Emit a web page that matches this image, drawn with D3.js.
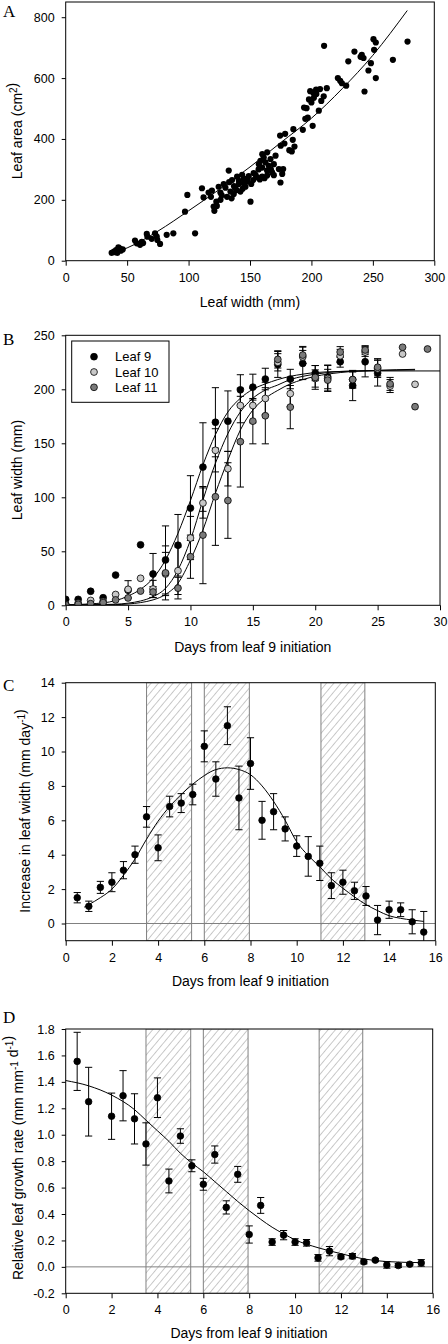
<!DOCTYPE html>
<html><head><meta charset="utf-8">
<script src="https://cdn.jsdelivr.net/npm/d3@7"></script>
<style>
body{margin:0;background:#fff}
svg{display:block}
text{font-family:"Liberation Sans",Arial,sans-serif;fill:#000}
</style>
</head><body>
<svg id="chart" width="448" height="1344"></svg>
<script>
// ---------------- Panel A data ----------------
const leafWidthA = [37.4,39.3,41,42.9,44.2,46.4,42,44.8,40,56.4,57.8,60.5,61.9,66,66.5,72.7,74.1,74.6,76.8,82.2,87.6,105.3,97.1,99,63,70,
110.9,112.2,116.3,118.2,120.4,121,122.6,124.5,125.9,128.6,131.3,132.7,134.1,135.4,136.8,138.1,139.5,140.9,142.2,143.6,145,146.3,147.7,149,150.4,151,152.6,154.5,155.9,158,159.9,161.8,
127,130,133,137,141,144,148,153,157,145,139,126,119,123,135,
157.2,158.5,159.9,161.2,162.6,163.9,165.3,166.7,168,169.4,170.8,173.5,174.8,176.2,177,169.4,163.9,160,164,167,
174.5,178.6,185.3,184.8,186.2,184,178,182,175,
193,195,197,194,196,198,200,202,204,199,201.6,203.8,206,207,210,212.5,208,201,210.3,
221.5,223.4,224.8,228.3,230,235,241,242.4,240,248.4,246.4,252.4,243.2,250.5,252.4,251,266.3,278.2];
const leafAreaA = [26,30,35,44,40,37,26,33,28,66,57,52,62,88,79,90,79,68,55,85,90,90,161,216,58,72,
238,208,224,210,178,164,194,243,224,252,210,296,227,265,219,238,276,252,227,282,254,243,267,278,194,252,265,282,274,267,276,271,
215,240,258,245,262,236,260,288,300,270,232,200,230,180,205,
317,328,306,339,323,296,312,334,290,317,345,301,257,285,301,281,280,350,356,300,
411,417,432,397,375,359,385,363,378,
430,466,470,503,501,530,520,535,548,557,551,562,493,564,540,567,525,443,706,
600,591,583,575,655,687,676,666,670,649,625,600,556,728,717,693,660,720];
const fitWidthA = [40,50,75,100,125,150,175,200,225,250,278];
const fitAreaA  = [27,42,97,164,234,308,388,468,565,675,822];
const xTicksA = [0,50,100,150,200,250,300];
const yTicksA = [0,200,400,600,800];

// ---------------- Panel B data ----------------
const daysB = d3.range(0,30);
const leaf9  = [5.5,5.5,13,7,28,14,56,29,42,55.6,90,128,169.5,170.5,199.5,202,209.5,223,209.5,224,215,211.5,225.5,203.5,225.5,215,null,null,null,null];
const leaf9Err = [0,0,0,0,0,0,0,19,31.5,28.5,30,41,32,28,14,12,10,12,9,15,7,11,5,14,14,12,null,null,null,null];
const leaf10 = [1,2,4.5,3.5,10,14.8,25,15.1,29,32,62.3,94.7,143.5,126.5,185,185,191.5,225,196,230,210,210,231,209,234.5,219,203,232.7,204.6,null];
const leaf10Err = [0,0,0,0,0,8,0,8,20,22,20,14,20,16,16,16,15,8,12,6,8,12,6,8,4,8,6,0,0,null];
const leaf11 = [0.5,1,1.5,2.5,5,6.8,13.2,12.3,30,15.9,45,65,100.5,97,151.5,170.5,175.5,227.7,183.5,231.7,211,208.5,234.5,209,236.4,220.4,205,238.9,183.9,237.3];
const leaf11Err = [0,0,0,0,0,0,0,5,25,10,20,45,45,35,42,21,26,8,20,8,11,10,5,7,4,8,6,0,0,0];
const fitDays9  = [0,2,4,5,6,7,8,9,10,11,12,13,14,15,16,17,18,19,20,22,25,28,30];
const fit9      = [0.5,1.3,4.3,8.6,14.8,25,42,66.7,97,130,158,179,191.7,200,205,209,212,214,215.5,216.5,217,217,217];
const fitDays10 = [0,2,4,5,6,7,8,9,10,11,12,13,14,15,16,17,18,19,20,22,25,28];
const fit10     = [0.2,0.6,1,2,4,8,15.7,32.7,60.5,97.5,131.5,159,179,191.7,199.3,204,209,212,214,216.5,217.5,218];
const fitDays11 = [0,2,4,5,6,7,8,9,10,11,12,13,14,15,16,17,18,19,20,22,25,28];
const fit11     = [0.1,0.3,0.6,1.2,2.5,5,10,20.4,42,69.7,103.7,134.5,162.3,180.8,191.7,199,205,209,212,215.5,217.5,218.5];
const legendB = ["Leaf 9","Leaf 10","Leaf 11"];
const xTicksB = [0,5,10,15,20,25,30];
const yTicksB = [0,50,100,150,200,250];

// ---------------- Panel C data ----------------
const daysC = [0.5,1,1.5,2,2.5,3,3.5,4,4.5,5,5.5,6,6.5,7,7.5,8,8.5,9,9.5,10,10.5,11,11.5,12,12.5,13,13.5,14,14.5,15,15.5];
const rateC = [1.5,1.0,2.1,2.4,3.1,4.0,6.2,4.4,6.8,7.0,7.5,10.3,8.4,11.5,7.3,9.3,6.0,6.5,5.5,4.5,3.9,3.5,2.2,2.4,1.9,1.6,0.2,0.8,0.8,0.1,-0.5];
const errC  = [0.3,0.3,0.35,0.55,0.5,0.5,0.6,0.75,0.6,0.55,0.6,0.9,1.0,1.1,1.85,1.5,1.1,1.05,0.7,0.6,1.15,1.0,0.75,0.7,0.5,0.55,0.85,0.5,0.4,0.7,1.2];
const fitDaysC = [0.8,1,1.5,2,2.5,3,3.5,4,4.5,5,5.5,6,6.5,7,7.5,8,8.5,9,9.5,10,10.5,11,11.5,12,12.5,13,13.5,14,14.5,15,15.5];
const fitC     = [0.95,1.1,1.5,2.0,2.8,3.75,4.9,5.95,6.8,7.5,8.1,8.6,8.95,9.05,8.95,8.65,8.0,7.1,6.0,4.75,3.95,3.3,2.6,2.05,1.55,1.1,0.75,0.45,0.3,0.2,0.12];
const xTicksC = [0,2,4,6,8,10,12,14,16];
const yTicksC = [0,2,4,6,8,10,12,14];

// ---------------- Panel D data ----------------
const daysD = [0.5,1,2,2.5,3,3.5,4,4.5,5,5.5,6,6.5,7,7.5,8,8.5,9,9.5,10,10.5,11,11.5,12,12.5,13,13.5,14,14.5,15,15.5];
const rgrD  = [1.555,1.25,1.14,1.295,1.12,0.93,1.28,0.65,0.99,0.765,0.625,0.85,0.45,0.70,0.245,0.465,0.188,0.24,0.188,0.182,0.068,0.119,0.076,0.081,0.038,0.051,0.015,0.01,0.02,0.03];
const errD  = [0.22,0.26,0.175,0.19,0.19,0.16,0.15,0.09,0.055,0.045,0.045,0.065,0.05,0.06,0.065,0.06,0.025,0.035,0.025,0.025,0.025,0.035,0.015,0.02,0.015,0.01,0.025,0.015,0.008,0.025];
const fitDaysD = [0,1,2,3,3.5,4,4.5,5,5.5,6,6.5,7,7.5,8,8.5,9,9.5,10,11,12,13,14,15.5];
const fitD     = [1.41,1.37,1.30,1.19,1.11,1.03,0.95,0.86,0.785,0.72,0.645,0.57,0.495,0.425,0.36,0.30,0.25,0.205,0.145,0.10,0.06,0.04,0.032];
const xTicksD = [0,2,4,6,8,10,12,14,16];
const yTicksD = [-0.2,0,0.2,0.4,0.6,0.8,1.0,1.2,1.4,1.6,1.8];

// shaded (hatched) day intervals in C and D
const bandStart = [3.5,6.0,11.05];
const bandEnd   = [5.45,7.95,12.95];

// ---------------- drawing ----------------
const svg = d3.select('#chart');
const defs = svg.append('defs');
const pat = defs.append('pattern').attr('id','hatch').attr('patternUnits','userSpaceOnUse')
  .attr('width',5.6).attr('height',5.6).attr('patternTransform','rotate(40)');
pat.append('line').attr('x1',0).attr('y1',0).attr('x2',0).attr('y2',5.6)
  .attr('stroke','#7a7a7a').attr('stroke-width',0.8);

function panel(cfg){
  const g = svg.append('g');
  const x = d3.scaleLinear().domain(cfg.xd).range([cfg.l,cfg.r]);
  const y = d3.scaleLinear().domain(cfg.yd).range([cfg.b,cfg.t]);
  defs.append('clipPath').attr('id','clip'+cfg.name).append('rect')
    .attr('x',cfg.l).attr('y',cfg.t).attr('width',cfg.r-cfg.l).attr('height',cfg.b-cfg.t);
  const xa = g.append('g').attr('transform',`translate(0,${cfg.b})`)
    .call(d3.axisBottom(x).tickValues(cfg.xt).tickSize(5).tickSizeOuter(0).tickPadding(7).tickFormat(cfg.xf));
  const ya = g.append('g').attr('transform',`translate(${cfg.l},0)`)
    .call(d3.axisLeft(y).tickValues(cfg.yt).tickSize(4).tickSizeOuter(0).tickPadding(7).tickFormat(cfg.yf));
  [xa,ya].forEach(a=>{
    a.select('.domain').remove();
    a.selectAll('line').attr('stroke','#000');
    a.selectAll('text').attr('font-size',12.5).attr('fill','#000').attr('font-family','"Liberation Sans",Arial,sans-serif');
  });
  const plot = g.append('g').attr('clip-path',`url(#clip${cfg.name})`);
  const top = g.append('g');
  return {g,x,y,plot,top,cfg};
}
function frame(p){
  p.top.append('rect').attr('x',p.cfg.l).attr('y',p.cfg.t).attr('width',p.cfg.r-p.cfg.l).attr('height',p.cfg.b-p.cfg.t)
    .attr('fill','none').attr('stroke','#000').attr('stroke-width',1);
}
function letter(t,x,y){
  svg.append('text').attr('x',x).attr('y',y).text(t).attr('font-size',17)
    .style('font-family','"Liberation Serif","Times New Roman",serif');
}
function xTitle(t,x,y){
  svg.append('text').attr('x',x).attr('y',y).attr('text-anchor','middle').attr('font-size',14).text(t);
}
function yTitle(parts,x,y){
  const t = svg.append('text').attr('transform',`translate(${x},${y}) rotate(-90)`).attr('text-anchor','middle').attr('font-size',14);
  parts.forEach(p=>{
    if(p.sup){ t.append('tspan').attr('dy',-5).attr('font-size',10).text(p.sup);
               t.append('tspan').attr('dy',5).text(''); }
    else t.append('tspan').text(p.t);
  });
}
function errorBars(p, xs, ys, es){
  xs.forEach((d,i)=>{
    const v = ys[i], e = es[i];
    if(v==null || !e) return;
    const cx = p.x(d), y1 = p.y(v+e), y2 = p.y(v-e);
    p.plot.append('line').attr('x1',cx).attr('x2',cx).attr('y1',y1).attr('y2',y2).attr('stroke','#000').attr('stroke-width',1);
    [y1,y2].forEach(yy=>p.plot.append('line').attr('x1',cx-3.6).attr('x2',cx+3.6).attr('y1',yy).attr('y2',yy).attr('stroke','#000').attr('stroke-width',1));
  });
}
function curve(p, xs, ys){
  const pts = xs.map((d,i)=>[d,ys[i]]);
  p.plot.append('path').datum(pts).attr('fill','none').attr('stroke','#000').attr('stroke-width',1)
    .attr('d', d3.line().x(d=>p.x(d[0])).y(d=>p.y(d[1])).curve(d3.curveMonotoneX));
}
function dots(p, xs, ys, fill, r){
  const pts = xs.map((d,i)=>[d,ys[i]]).filter(d=>d[1]!=null);
  p.plot.append('g').selectAll('circle').data(pts).join('circle')
    .attr('cx',d=>p.x(d[0])).attr('cy',d=>p.y(d[1])).attr('r',r)
    .attr('fill',fill).attr('stroke','#000').attr('stroke-width',0.8);
}
function bands(p){
  bandStart.forEach((s,i)=>{
    const x0 = p.x(s), x1 = p.x(bandEnd[i]);
    p.plot.append('rect').attr('x',x0).attr('y',p.cfg.t).attr('width',x1-x0).attr('height',p.cfg.b-p.cfg.t)
      .attr('fill','url(#hatch)').attr('stroke','#808080').attr('stroke-width',1);
  });
  p.plot.append('line').attr('x1',p.cfg.l).attr('x2',p.cfg.r).attr('y1',p.y(0)).attr('y2',p.y(0))
    .attr('stroke','#808080').attr('stroke-width',1);
}
const fmtInt = d3.format('d');
const fmt1 = v => d3.format('.1f')(v).replace('\u2212','-');

// Panel A
const pA = panel({name:'A',l:65.7,r:434.3,t:2,b:260.7,xd:[0,300],yd:[0,850],xt:xTicksA,yt:yTicksA,xf:fmtInt,yf:fmtInt});
curve(pA, fitWidthA, fitAreaA);
pA.plot.append('g').selectAll('circle').data(leafWidthA.map((w,i)=>[w,leafAreaA[i]])).join('circle')
  .attr('cx',d=>pA.x(d[0])).attr('cy',d=>pA.y(d[1])).attr('r',3.1).attr('fill','#000');
frame(pA);
letter('A',3,17);
xTitle('Leaf width (mm)',250,307);
yTitle([{t:'Leaf area (cm'},{sup:'2'},{t:')'}],22,131);

// Panel B
const pB = panel({name:'B',l:65.7,r:440,t:335.3,b:605.3,xd:[0,30],yd:[0,250],xt:xTicksB,yt:yTicksB,xf:fmtInt,yf:fmtInt});
curve(pB, fitDays9, fit9);
curve(pB, fitDays10, fit10);
curve(pB, fitDays11, fit11);
errorBars(pB, daysB, leaf9, leaf9Err);
errorBars(pB, daysB, leaf10, leaf10Err);
errorBars(pB, daysB, leaf11, leaf11Err);
const colB = ['#000','#c8c8c8','#7a7a7a'];
dots(pB, daysB, leaf9, colB[0], 3.4);
dots(pB, daysB, leaf10, colB[1], 3.4);
dots(pB, daysB, leaf11, colB[2], 3.4);
frame(pB);
const lg = pB.top.append('g');
lg.append('rect').attr('x',71.7).attr('y',341).attr('width',97.3).attr('height',61.3).attr('fill','#fff').attr('stroke','#000');
legendB.forEach((t,i)=>{
  const yy = 356.7 + i*15.3;
  lg.append('circle').attr('cx',94).attr('cy',yy).attr('r',3.4).attr('fill',colB[i]).attr('stroke','#000').attr('stroke-width',0.8);
  lg.append('text').attr('x',115).attr('y',yy+4.6).attr('font-size',13).text(t);
});
letter('B',3,345);
xTitle('Days from leaf 9 initiation',252.8,652);
yTitle([{t:'Leaf width (mm)'}],22,470);

// Panel C
const pC = panel({name:'C',l:65.7,r:435.3,t:682.7,b:940.7,xd:[0,16],yd:[-1,14],xt:xTicksC,yt:yTicksC,xf:fmtInt,yf:fmtInt});
bands(pC);
curve(pC, fitDaysC, fitC);
errorBars(pC, daysC, rateC, errC);
dots(pC, daysC, rateC, '#000', 3.3);
frame(pC);
letter('C',3,690.7);
xTitle('Days from leaf 9 initiation',250.5,986);
yTitle([{t:'Increase in leaf width (mm day'},{sup:'-1'},{t:')'}],30,811);

// Panel D
const pD = panel({name:'D',l:65.7,r:432.7,t:1029,b:1293.3,xd:[0,16],yd:[-0.2,1.8],xt:xTicksD,yt:yTicksD,xf:fmtInt,yf:fmt1});
bands(pD);
curve(pD, fitDaysD, fitD);
errorBars(pD, daysD, rgrD, errD);
dots(pD, daysD, rgrD, '#000', 3.3);
frame(pD);
letter('D',3,1023);
xTitle('Days from leaf 9 initiation',249,1338);
yTitle([{t:'Relative leaf growth rate (mm mm'},{sup:'-1'},{t:' d'},{sup:'-1'},{t:')'}],23,1158);
</script>
</body></html>
